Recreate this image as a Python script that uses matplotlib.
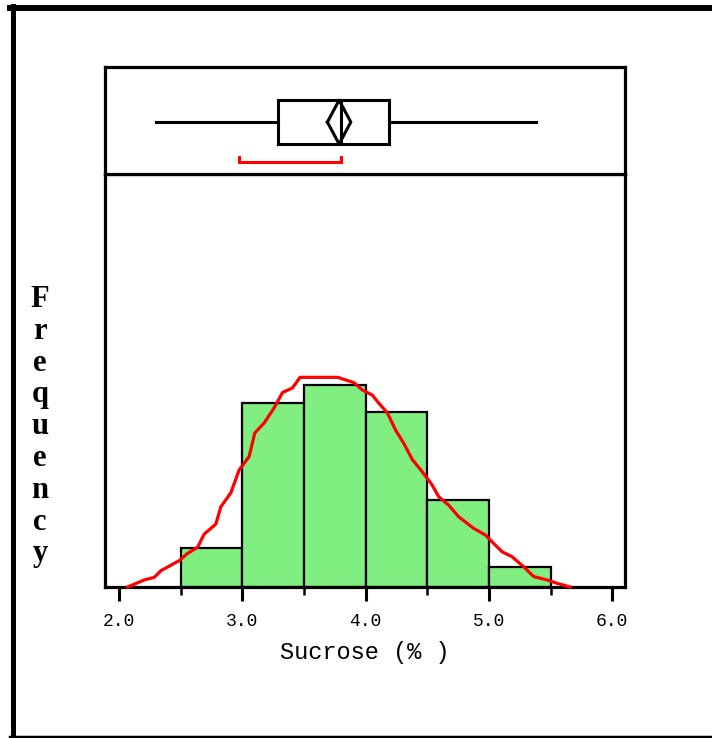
import matplotlib.pyplot as plt
from matplotlib.lines import Line2D

# histogram bins (Sucrose %) and bar heights
bin_edges = [2.5, 3.0, 3.5, 4.0, 4.5, 5.0, 5.5]
bar_heights = [2.0, 9.34, 10.27, 8.91, 4.42, 1.02]

# smooth density curve
curve_x = [2.07, 2.205, 2.286, 2.34, 2.488, 2.556, 2.637, 2.691, 2.785, 2.826,
           2.907, 2.974, 3.055, 3.101, 3.177, 3.257, 3.326, 3.406, 3.468, 3.776,
           3.798, 3.905, 3.973, 4.054, 4.108, 4.176, 4.243, 4.31, 4.378, 4.459,
           4.54, 4.593, 4.674, 4.755, 4.877, 4.972, 5.039, 5.107, 5.188, 5.282,
           5.363, 5.471, 5.552, 5.66]
curve_y = [0.0, 0.36, 0.49, 0.83, 1.34, 1.71, 2.02, 2.69, 3.2, 4.08,
           4.79, 5.95, 6.63, 7.83, 8.34, 9.1, 9.89, 10.12, 10.66, 10.66,
           10.61, 10.39, 10.02, 9.76, 9.34, 8.86, 7.98, 7.3, 6.49, 5.86,
           5.18, 4.59, 4.16, 3.57, 2.98, 2.64, 2.21, 1.79, 1.54, 1.03,
           0.53, 0.36, 0.19, 0.0]

# box plot summary
whisker_lo, q1, median, q3, whisker_hi = 2.30, 3.29, 3.80, 4.19, 5.38
mean_lo, mean_hi = 3.69, 3.88
shortest_half = (2.97, 3.80)

major_ticks = [2.0, 3.0, 4.0, 5.0, 6.0]
major_labels = ['2.0', '3.0', '4.0', '5.0', '6.0']
minor_ticks = [2.5, 3.5, 4.5, 5.5]

W, H = 712, 738
fig = plt.figure(figsize=(W / 100, H / 100), dpi=100)

x0, x1 = 105 / W, 625 / W
ax = fig.add_axes([x0, 1 - 587 / H, x1 - x0, (587 - 174) / H])
axb = fig.add_axes([x0, 1 - 174 / H, x1 - x0, (174 - 67) / H])
xlim = (1.886, 6.104)

# histogram panel
widths = [b - a for a, b in zip(bin_edges[:-1], bin_edges[1:])]
ax.bar(bin_edges[:-1], bar_heights, width=widths, align='edge',
       color='#80ee80', edgecolor='black', linewidth=1.6, clip_on=False, zorder=2)
ax.plot(curve_x, curve_y, color='#ff0000', linewidth=2.3, zorder=3, clip_on=False)
ax.set_xlim(*xlim)
ax.set_ylim(0, 21)
ax.set_yticks([])
ax.set_xticks(major_ticks)
ax.set_xticklabels(major_labels, family='Liberation Mono', fontsize=13)
ax.set_xticks(minor_ticks, minor=True)
ax.tick_params(axis='x', which='major', length=10, width=2.2, pad=9, color='black')
ax.tick_params(axis='x', which='minor', length=6, width=1.8, color='black')
for s in ax.spines.values():
    s.set_linewidth(2.3)
ax.set_xlabel('Sucrose (% )', family='Liberation Mono', fontsize=17, labelpad=8)

# box plot panel
axb.set_xlim(*xlim)
axb.set_ylim(0, 1)
axb.set_xticks([])
axb.set_yticks([])
for s in axb.spines.values():
    s.set_linewidth(2.3)
lw = 2.2
box_lo, box_hi, mid = 0.28, 0.69, 0.485
axb.plot([whisker_lo, q1], [mid, mid], color='black', lw=lw)
axb.plot([q3, whisker_hi], [mid, mid], color='black', lw=lw)
axb.plot([q1, q3, q3, q1, q1], [box_lo, box_lo, box_hi, box_hi, box_lo],
         color='black', lw=lw, solid_joinstyle='miter')
axb.plot([median, median], [box_lo, box_hi], color='black', lw=lw)
mean_c = (mean_lo + mean_hi) / 2
axb.plot([mean_lo, mean_c, mean_hi, mean_c, mean_lo],
         [mid, box_hi, mid, box_lo, mid], color='black', lw=lw)
axb.plot([shortest_half[0], shortest_half[0], shortest_half[1], shortest_half[1]],
         [0.16, 0.112, 0.112, 0.16], color='#ff0000', lw=2.2, solid_joinstyle='miter')

# vertical stacked y label
for i, ch in enumerate('Frequency'):
    fig.text(40 / W, 1 - (307 + i * 31.8) / H, ch, ha='center', va='baseline',
             family='Liberation Serif', fontweight='bold', fontsize=22)

# outer frame (top, left, bottom)
fig.add_artist(Line2D([10 / W, 1], [1 - 8 / H, 1 - 8 / H], color='black', lw=4.3,
                      transform=fig.transFigure))
fig.add_artist(Line2D([12.5 / W, 12.5 / W], [1 - 6 / H, 1 - 737 / H], color='black',
                      lw=3.6, transform=fig.transFigure))
fig.add_artist(Line2D([10 / W, 1], [1 - 736.5 / H, 1 - 736.5 / H], color='black',
                      lw=2.5, transform=fig.transFigure))

fig.savefig('out.png', dpi=100)
